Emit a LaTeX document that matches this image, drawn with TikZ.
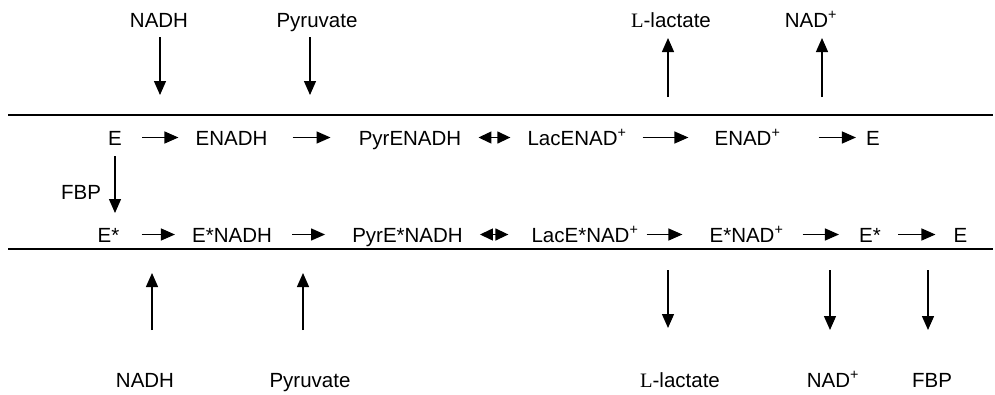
\documentclass[tikz,border=0pt]{standalone}
\usepackage{fontspec}
\setmainfont{Liberation Sans}
\newfontfamily\serifL{Liberation Serif}
\usetikzlibrary{arrows.meta}
\begin{document}
\begin{tikzpicture}[x=1pt,y=-1pt,
  every node/.style={font=\fontsize{20.5}{24}\selectfont, inner sep=0pt, anchor=base},
  sp/.style={text height=15pt, text depth=0pt},
  arr/.style={line width=1.3pt, -{Triangle[length=14pt,width=12pt]}},
  darr/.style={line width=1.3pt, {Triangle[length=13pt,width=12pt]}-{Triangle[length=13pt,width=12pt]}},
  memb/.style={line width=1.5pt}]
\useasboundingbox (0,0) rectangle (995,394);
% membranes
\coordinate (m1a) at (8,115); \coordinate (m1b) at (993,115);
\coordinate (m2a) at (8,249); \coordinate (m2b) at (993,249);
\draw[memb] (m1a) -- (m1b);
\draw[memb] (m2a) -- (m2b);
% row 1
\node[sp] (E1) at (115,145) {E};
\node[sp] (ENADH) at (231.5,145) {ENADH};
\node[sp] (PyrENADH) at (410,145) {PyrENADH};
\node[sp] (LacENAD) at (577,145) {LacENAD\textsuperscript{+}};
\node[sp] (ENAD) at (747.5,145) {ENAD\textsuperscript{+}};
\node[sp] (E1b) at (873,145) {E};
\draw[arr] ([xshift=20pt]E1.east) -- ([xshift=-17pt]ENADH.west);
\draw[arr] ([xshift=25pt]ENADH.east) -- ([xshift=-28pt]PyrENADH.west);
\draw[darr] ([xshift=17pt]PyrENADH.east) -- ([xshift=-17pt]LacENAD.west);
\draw[arr] ([xshift=16pt]LacENAD.east) -- ([xshift=-26pt]ENAD.west);
\draw[arr] ([xshift=38pt]ENAD.east) -- ([xshift=-10pt]E1b.west);
% row 2
\node[sp] (Es1) at (108.5,242) {E*};
\node[sp] (EsNADH) at (232,242) {E*NADH};
\node[sp] (PyrEsNADH) at (407.5,242) {PyrE*NADH};
\node[sp] (LacEsNAD) at (585,242) {LacE*NAD\textsuperscript{+}};
\node[sp] (EsNAD) at (746.5,242) {E*NAD\textsuperscript{+}};
\node[sp] (Es2) at (870,242) {E*};
\node[sp] (E2) at (960.5,242) {E};
\draw[arr] ([xshift=22pt]Es1.east) -- ([xshift=-17pt]EsNADH.west);
\draw[arr] ([xshift=20pt]EsNADH.east) -- ([xshift=-27pt]PyrEsNADH.west);
\draw[darr] ([xshift=17pt]PyrEsNADH.east) -- ([xshift=-23pt]LacEsNAD.west);
\draw[arr] ([xshift=8pt]LacEsNAD.east) -- ([xshift=-27pt]EsNAD.west);
\draw[arr] ([xshift=19pt]EsNAD.east) -- ([xshift=-20pt]Es2.west);
\draw[arr] ([xshift=17pt]Es2.east) -- ([xshift=-18pt]E2.west);
% FBP activation
\draw[arr] ([yshift=-11pt]E1.south) -- (E1.south |- 0,213);
\node (FBPa) at (81,199) {FBP};
% top inputs / outputs
\node (tNADH) at (159,27) {NADH};
\node (tPyr) at (317,27) {Pyruvate};
\node (tLac) at (671,27) {{\serifL L}-lactate};
\node (tNAD) at (811,27) {NAD\textsuperscript{+}};
\coordinate (t1a) at (160,37); \coordinate (t1b) at (160,95);
\coordinate (t2a) at (310,37); \coordinate (t2b) at (310,95);
\coordinate (t3a) at (668,97); \coordinate (t3b) at (668,38);
\coordinate (t4a) at (822,97); \coordinate (t4b) at (822,38);
\draw[arr] (t1a) -- (t1b);
\draw[arr] (t2a) -- (t2b);
\draw[arr] (t3a) -- (t3b);
\draw[arr] (t4a) -- (t4b);
% bottom inputs / outputs
\node (bNADH) at (145,387) {NADH};
\node (bPyr) at (310,387) {Pyruvate};
\node (bLac) at (680,387) {{\serifL L}-lactate};
\node (bNAD) at (833,387) {NAD\textsuperscript{+}};
\node (bFBP) at (932,387) {FBP};
\coordinate (b1a) at (152,330); \coordinate (b1b) at (152,273);
\coordinate (b2a) at (303,330); \coordinate (b2b) at (303,273);
\coordinate (b3a) at (668,270); \coordinate (b3b) at (668,328);
\coordinate (b4a) at (830,270); \coordinate (b4b) at (830,330);
\coordinate (b5a) at (928,270); \coordinate (b5b) at (928,330);
\draw[arr] (b1a) -- (b1b);
\draw[arr] (b2a) -- (b2b);
\draw[arr] (b3a) -- (b3b);
\draw[arr] (b4a) -- (b4b);
\draw[arr] (b5a) -- (b5b);
\end{tikzpicture}
\end{document}
